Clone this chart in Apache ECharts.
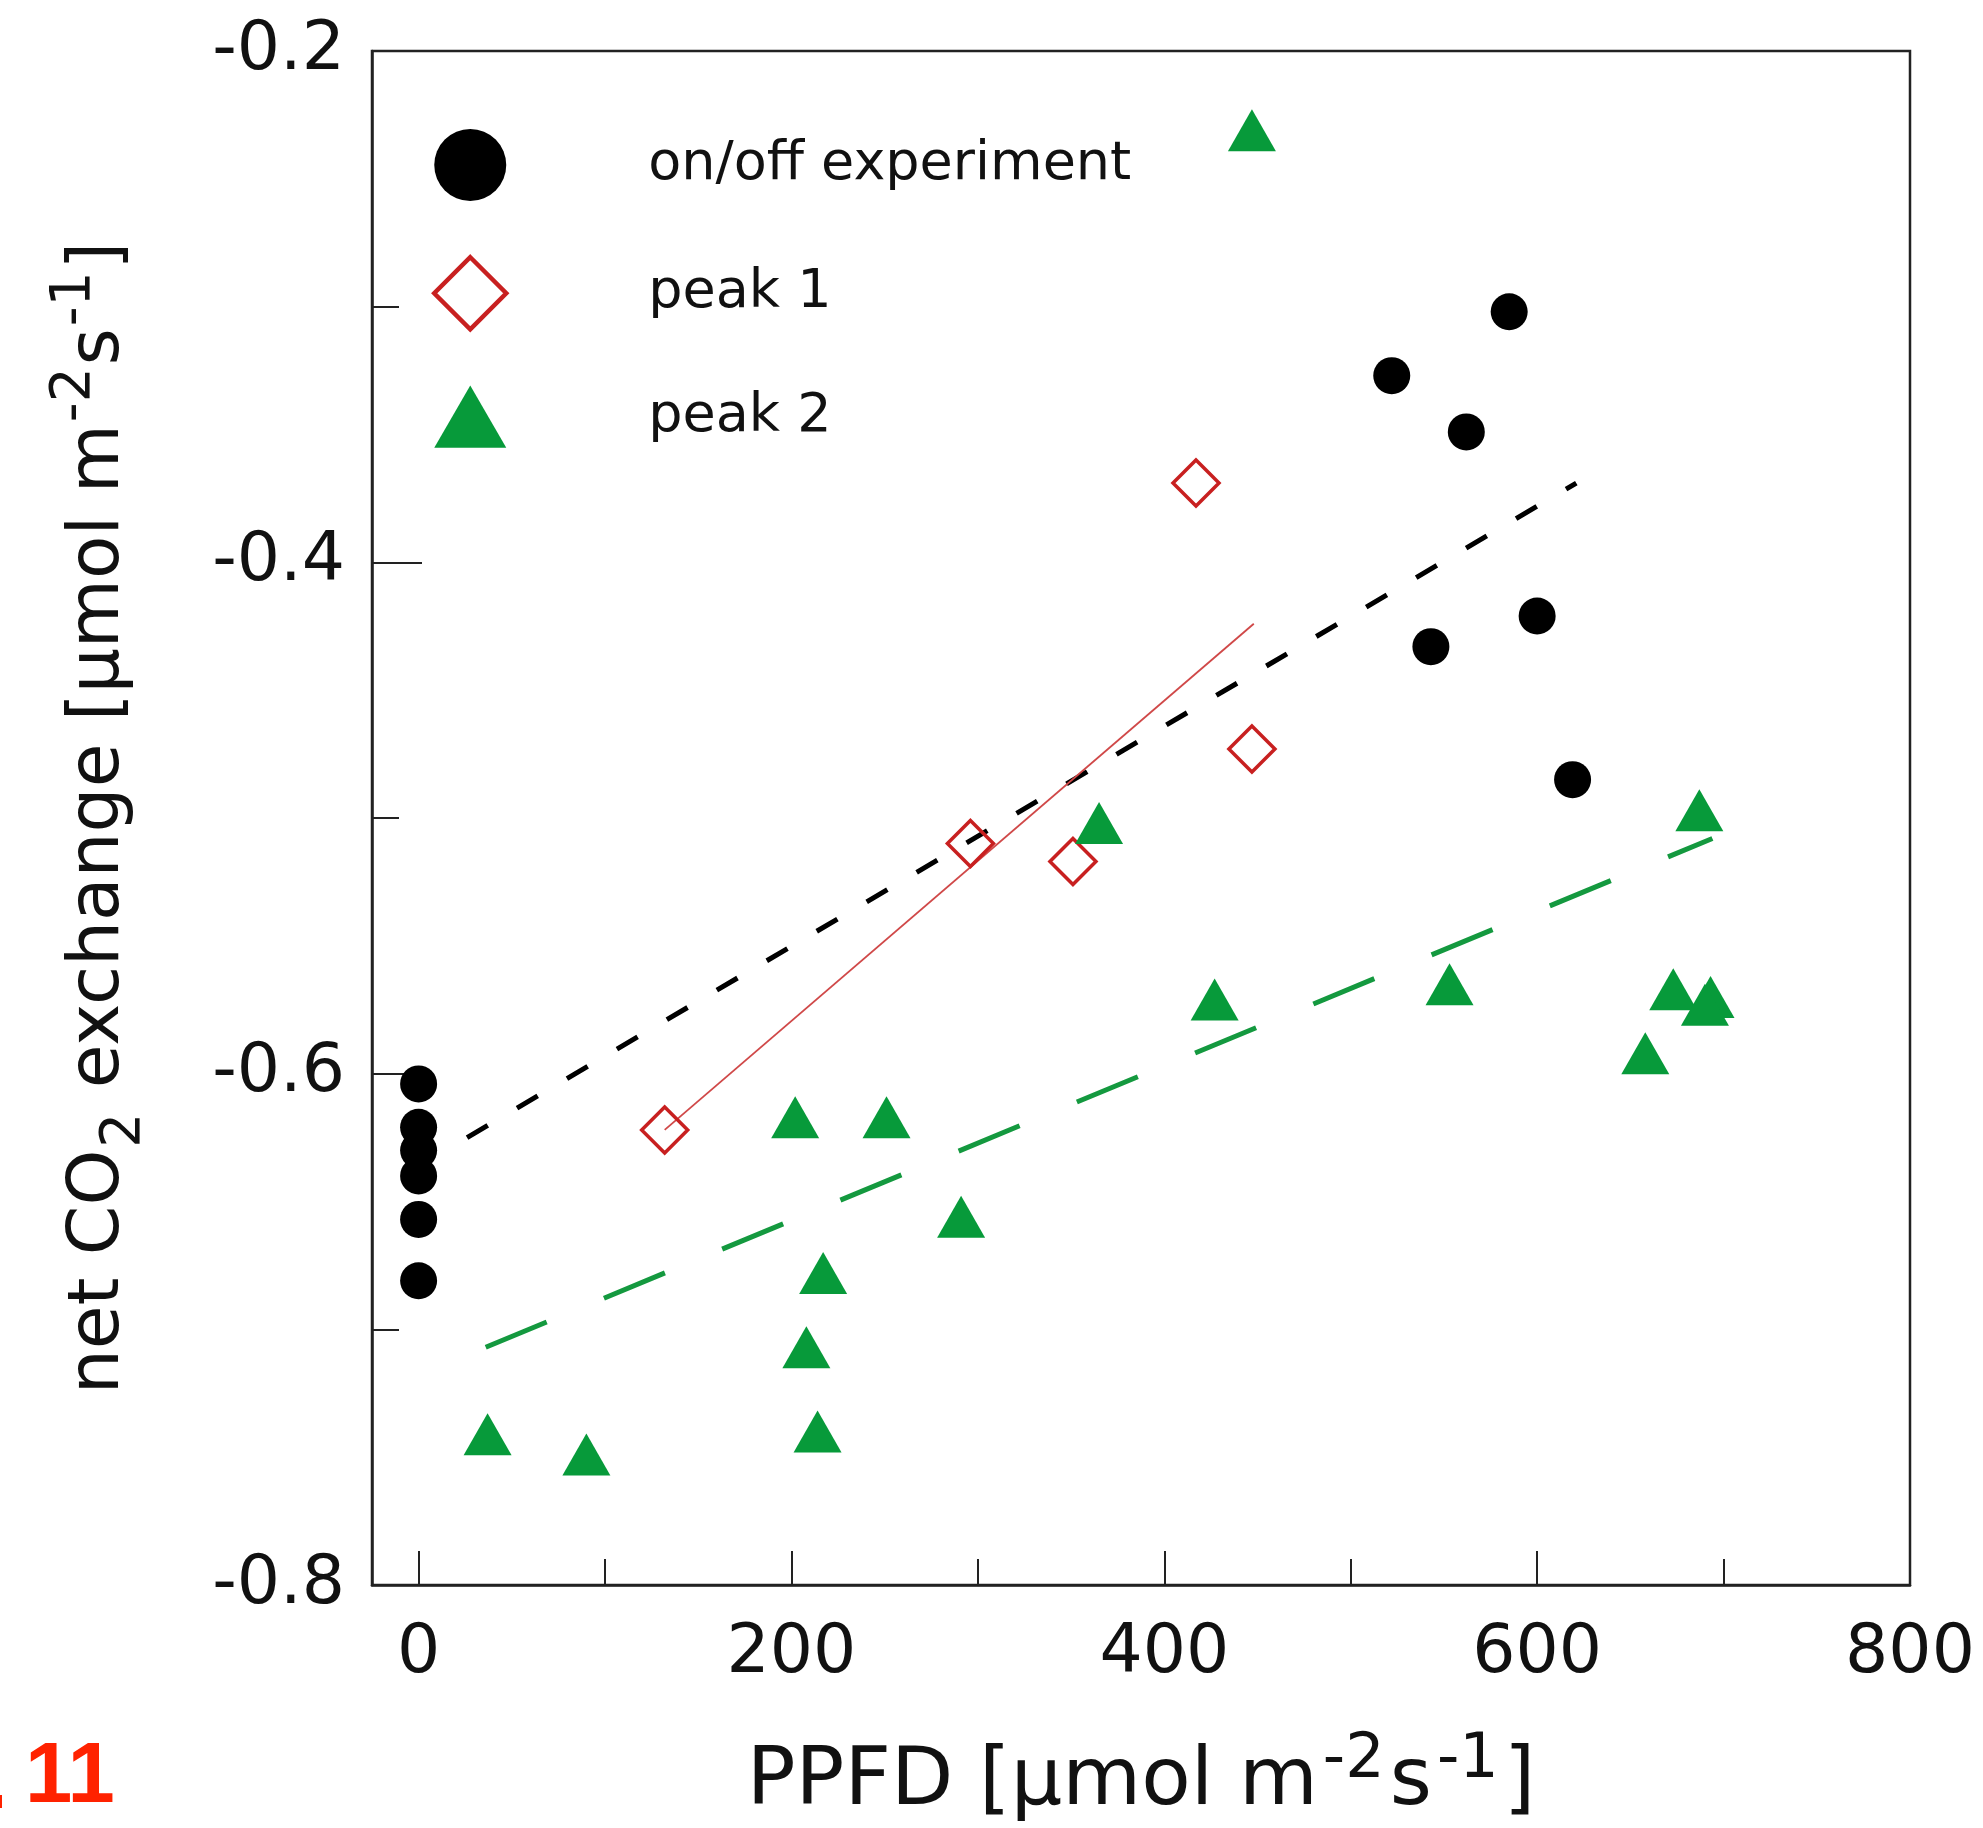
<!DOCTYPE html>
<html><head><meta charset="utf-8">
<script src="https://cdn.jsdelivr.net/npm/echarts@6/dist/echarts.min.js"></script>
<style>html,body{margin:0;padding:0;background:#fff}#c{width:1983px;height:1828px}</style>
</head><body><div id="c"></div>
<script>
// ---- data ----
const onoffX = [0, 0, 0, 0, 0, 0, 522, 585, 562, 543, 600, 619];
const onoffY = [-0.604, -0.621, -0.630, -0.640, -0.657, -0.681, -0.327, -0.302, -0.349, -0.433, -0.421, -0.485];
const peak1X = [132, 296, 351, 417, 447];
const peak1Y = [-0.622, -0.510, -0.517, -0.369, -0.473];
const peak2X = [447, 365, 687, 427, 553, 673, 693, 690, 658, 202, 251, 291, 217, 208, 214, 37, 90];
const peak2Y = [-0.231, -0.502, -0.497, -0.571, -0.565, -0.567, -0.570, -0.573, -0.592, -0.617, -0.617, -0.656, -0.678, -0.707, -0.740, -0.741, -0.749];
const fitOnoffX = [26, 621];
const fitOnoffY = [-0.625, -0.369];
const fitPeak1X = [132, 448];
const fitPeak1Y = [-0.622, -0.424];
const fitPeak2X = [36, 694];
const fitPeak2Y = [-0.707, -0.508];
const xMajorTicks = [0, 200, 400, 600];
const xMinorTicks = [100, 300, 500, 700];
const xTickLabels = [0, 200, 400, 600, 800];
const seriesNames = ['on/off experiment', 'peak 1', 'peak 2'];

const zip = (xs, ys) => xs.map((x, i) => [x, ys[i]]);
const FONT = 'DejaVu Sans';
const INK = '#111';
const GREEN = '#079a3a';
const RED = '#c82020';

const chart = echarts.init(document.getElementById('c'), null, {renderer: 'canvas'});
chart.setOption({
  animation: false,
  backgroundColor: '#fff',
  grid: {left: 372, right: 73, top: 51, bottom: 243, show: true, borderColor: '#222', borderWidth: 2.5, outerBoundsMode: 'none'},
  legend: {
    orient: 'vertical', left: 432, top: 129, padding: 0,
    itemWidth: 72, itemHeight: 72, itemGap: 54,
    textStyle: {fontSize: 54, fontFamily: FONT, color: INK, padding: [0, 0, 0, 137]},
    data: [
      {name: seriesNames[0], icon: 'circle', itemStyle: {opacity: 1}},
      {name: seriesNames[1], icon: 'diamond', itemStyle: {borderWidth: 4.5, opacity: 1}},
      {name: seriesNames[2], icon: 'path://M50,0L100,86.6L0,86.6Z', itemStyle: {opacity: 1}}
    ]
  },
  xAxis: [{
    type: 'value', min: -25, max: 800, position: 'bottom',
    axisLine: {show: true, onZero: false, lineStyle: {color: '#222', width: 2.5}},
    axisTick: {show: true, inside: true, length: 34, customValues: xMajorTicks, lineStyle: {color: '#222', width: 2}},
    axisLabel: {customValues: xTickLabels, margin: 35, fontSize: 68, fontFamily: FONT, color: INK},
    splitLine: {show: false},
    name: '{a|PPFD [µmol m}{b|-2}{a|s}{b|-1}{a|]}',
    nameLocation: 'middle', nameGap: 156,
    nameTextStyle: {
      rich: {
        a: {fontSize: 81, fontFamily: FONT, color: INK, lineHeight: 84},
        b: {fontSize: 62, fontFamily: FONT, color: INK, lineHeight: 62, padding: [0, 5, 44, 5]}
      }
    }
  }, {
    type: 'value', min: -25, max: 800, position: 'bottom', gridIndex: 0,
    axisLine: {show: false, onZero: false},
    axisTick: {show: true, inside: true, length: 26, customValues: xMinorTicks, lineStyle: {color: '#222', width: 2}},
    axisLabel: {show: false},
    splitLine: {show: false}
  }],
  yAxis: {
    type: 'value', min: -0.8, max: -0.2, interval: 0.2,
    axisLine: {show: true, onZero: false, lineStyle: {color: '#222', width: 2.5}},
    axisTick: {show: true, inside: true, length: 50, lineStyle: {color: '#222', width: 2}},
    minorTick: {show: true, splitNumber: 2, length: 27, lineStyle: {color: '#222', width: 2}},
    axisLabel: {margin: 27, fontSize: 68, fontFamily: FONT, color: INK, formatter: v => v.toFixed(1)},
    splitLine: {show: false},
    name: '{a|net CO}{c|2}{a| exchange [µmol m}{b|-2}{a|s}{b|-1}{a|]}',
    nameLocation: 'middle', nameRotate: 90, nameGap: 235,
    nameTextStyle: {
      rich: {
        a: {fontSize: 71, fontFamily: FONT, color: INK, lineHeight: 74},
        b: {fontSize: 55, fontFamily: FONT, color: INK, lineHeight: 55, padding: [0, 2, 50, 2]},
        c: {fontSize: 55, fontFamily: FONT, color: INK, lineHeight: 55, padding: [50, 2, 0, 2]}
      }
    }
  },
  series: [
    {type: 'line', name: 'fit on/off', data: zip(fitOnoffX, fitOnoffY), showSymbol: false, symbol: 'none', silent: true,
     lineStyle: {color: '#000', width: 5, type: [24, 34]}, z: 2},
    {type: 'line', name: 'fit peak 1', data: zip(fitPeak1X, fitPeak1Y), showSymbol: false, symbol: 'none', silent: true,
     lineStyle: {color: '#d04848', width: 1.8}, z: 2},
    {type: 'line', name: 'fit peak 2', data: zip(fitPeak2X, fitPeak2Y), showSymbol: false, symbol: 'none', silent: true,
     lineStyle: {color: '#14993f', width: 5, type: [66, 62]}, z: 2},
    {type: 'scatter', name: seriesNames[0], data: zip(onoffX, onoffY), symbol: 'circle', symbolSize: 37,
     itemStyle: {color: '#000', opacity: 1}, z: 3},
    {type: 'scatter', name: seriesNames[1], data: zip(peak1X, peak1Y), symbol: 'diamond', symbolSize: 46,
     itemStyle: {color: 'rgba(255,255,255,0)', borderColor: RED, borderWidth: 3.5, opacity: 1}, z: 3},
    {type: 'scatter', name: seriesNames[2], data: zip(peak2X, peak2Y), symbol: 'triangle', symbolSize: [48, 42],
     itemStyle: {color: GREEN, opacity: 1}, z: 3}
  ],
  graphic: [
    {type: 'rect', shape: {x: 0, y: 1795, width: 2, height: 13}, style: {fill: '#ff2200'}},
    {type: 'text', x: 25, y: 1779, style: {text: '11', font: 'bold 85px "Liberation Sans"', fill: '#ff2200',
      textVerticalAlign: 'middle', verticalAlign: 'middle', textAlign: 'left', align: 'left'}}
  ]
});
</script></body></html>
